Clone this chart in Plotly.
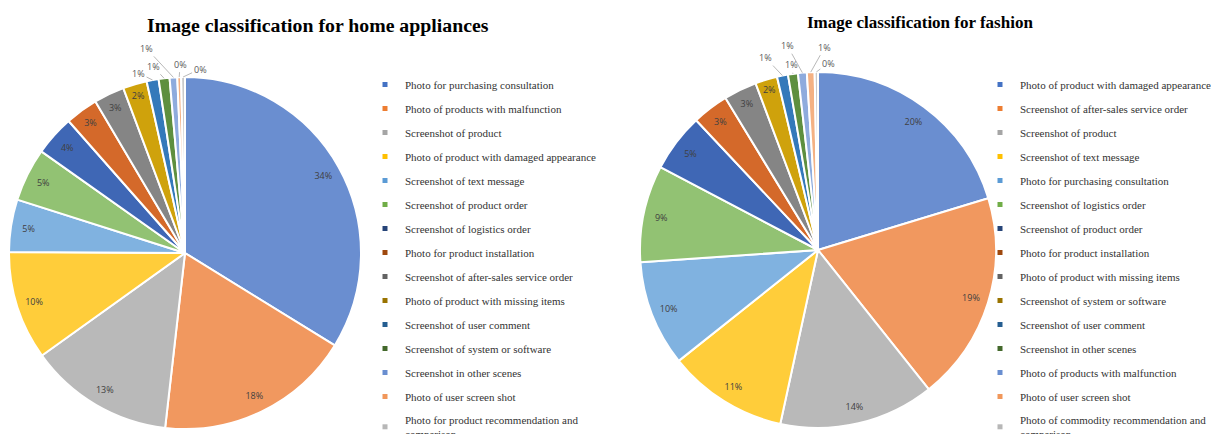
import math
import plotly.graph_objects as go

# ---------------- data ----------------
home_labels = [
    "Photo for purchasing consultation",
    "Photo of products with malfunction",
    "Screenshot of product",
    "Photo of product with damaged appearance",
    "Screenshot of text message",
    "Screenshot of product order",
    "Screenshot of logistics order",
    "Photo for product installation",
    "Screenshot of after-sales service order",
    "Photo of product with missing items",
    "Screenshot of user comment",
    "Screenshot of system or software",
    "Screenshot in other scenes",
    "Photo of user screen shot",
    "Photo for product recommendation and comparison",
]
home_values = [33.8, 18.0, 13.3, 10.0, 4.8, 4.9, 3.7, 3.0, 2.8, 2.2, 1.1, 1.0, 0.7, 0.35, 0.35]

fashion_labels = [
    "Photo of product with damaged appearance",
    "Screenshot of after-sales service order",
    "Screenshot of product",
    "Screenshot of text message",
    "Photo for purchasing consultation",
    "Screenshot of logistics order",
    "Screenshot of product order",
    "Photo for product installation",
    "Photo of product with missing items",
    "Screenshot of system or software",
    "Screenshot of user comment",
    "Screenshot in other scenes",
    "Photo of products with malfunction",
    "Photo of user screen shot",
    "Photo of commodity recommendation and comparison",
]
fashion_values = [20.3, 19.0, 14.1, 10.9, 9.6, 8.8, 5.3, 3.3, 3.0, 2.0, 1.0, 0.9, 0.8, 0.7, 0.3]

titles = ["Image classification for home appliances", "Image classification for fashion"]

# slice fill colours (mid-tone of the Office gradient) and legend swatch colours
slice_colors = ["#6A8ED0", "#F1985F", "#B9B9B9", "#FFCD3A", "#80B2E0", "#92C273",
                "#3F67B5", "#D4692A", "#858585", "#CFA20C", "#3479BA", "#5E8F3F",
                "#8EABDD", "#F4B183", "#CACACA"]
swatch_colors = ["#4472C4", "#ED7D31", "#A5A5A5", "#FFC000", "#5B9BD5", "#70AD47",
                 "#264478", "#9E480E", "#636363", "#997300", "#255E91", "#43682B",
                 "#698ED0", "#F1975A", "#B7B7B7"]

# ---------------- layout constants ----------------
W, H = 1211, 434
PIE_GEOM = [  # centre x, centre y (px from top), radius (px)
    (185, 253, 176),
    (818, 250, 178),
]
# pixel offsets of the callout labels of the thin slices (styling only)
CALLOUT_OFFSETS = [
    [(-14, -7), (-11, -12), (-27, -29), (1, -13), (17, -8)],
    [(-17, -18), (-1, -9), (-15, -27), (14, -25), (12, -9)],
]
LEGEND_X = [365, 980]


def wrap_name(s):
    if len(s) > 42:
        cut = s.rfind(" ", 0, 40)
        return s[:cut] + "<br>" + s[cut + 1:]
    return s


fig = go.Figure()
annotations = []

series = [(home_values, home_labels, "legend"), (fashion_values, fashion_labels, "legend2")]

for k, (values, labels, leg) in enumerate(series):
    cx, cy, R = PIE_GEOM[k]
    dom = dict(x=[(cx - R) / W, (cx + R) / W], y=[(H - cy - R) / H, (H - cy + R) / H])
    fig.add_trace(go.Pie(
        values=values, labels=labels, domain=dom, sort=False, direction="clockwise",
        rotation=0, marker=dict(colors=slice_colors, line=dict(color="white", width=2)),
        textinfo="none", showlegend=False, hoverinfo="label+percent",
    ))
    big = [v >= 2 for v in values]
    # percent labels of the wide slices, placed in an outer ring
    fig.add_trace(go.Pie(
        values=values, labels=labels, domain=dom, sort=False, direction="clockwise",
        rotation=0, hole=0.8,
        marker=dict(colors=["rgba(0,0,0,0)"] * len(values), line=dict(width=0)),
        texttemplate=["%{percent:.0%}" if b else "" for b in big], textposition="inside",
        insidetextorientation="horizontal",
        textfont=dict(family="Open Sans", size=9, color="#404040"),
        showlegend=False, hoverinfo="skip",
    ))
    # callouts for the thin slices
    total = sum(values)
    cum = 0.0
    j = 0
    for v, b in zip(values, big):
        mid = (cum + v / 2) / total
        cum += v
        if b:
            continue
        th = 2 * math.pi * mid
        hx = cx + R * math.sin(th)
        hy = cy - R * math.cos(th)
        ax, ay = CALLOUT_OFFSETS[k][j]
        j += 1
        annotations.append(dict(
            x=hx / W, y=(H - hy) / H, xref="paper", yref="paper",
            text=f"{round(v / total * 100)}%", showarrow=True, arrowhead=0,
            arrowwidth=0.8, arrowcolor="#A6A6A6", standoff=0, ax=ax, ay=ay,
            font=dict(family="Open Sans", size=9, color="#595959"),
        ))
    for lab, col in zip(labels, swatch_colors):
        fig.add_trace(go.Scatter(
            x=[None], y=[None], mode="markers", name=wrap_name(lab),
            marker=dict(symbol="square", size=5, color=col),
            legend=leg, legendgroup=leg + lab, showlegend=True,
        ))

legend_common = dict(
    font=dict(family="Liberation Serif", size=11, color="#333333"),
    tracegroupgap=5, bgcolor="rgba(0,0,0,0)", yanchor="top", xanchor="left",
    xref="container", yref="container", maxheight=800,
    itemclick=False, itemdoubleclick=False,
)
annotations += [
    dict(text=f"<b>{titles[0]}</b>", x=318 / W, y=(H - 25) / H, xref="paper", yref="paper",
         xanchor="center", yanchor="middle", showarrow=False,
         font=dict(family="Liberation Serif", size=19.8, color="#000000")),
    dict(text=f"<b>{titles[1]}</b>", x=920 / W, y=(H - 22) / H, xref="paper", yref="paper",
         xanchor="center", yanchor="middle", showarrow=False,
         font=dict(family="Liberation Serif", size=17, color="#000000")),
]
fig.update_layout(
    width=W, height=H, margin=dict(l=0, r=0, t=0, b=0, autoexpand=False),
    paper_bgcolor="white", plot_bgcolor="white",
    xaxis=dict(visible=False), yaxis=dict(visible=False),
    legend=dict(x=LEGEND_X[0] / W, y=(H - 70) / H, **legend_common),
    legend2=dict(x=LEGEND_X[1] / W, y=(H - 70) / H, **legend_common),
    annotations=annotations,
)

fig.write_html("out.html", config={"displayModeBar": False},
               post_script="document.body.style.margin='0';")
